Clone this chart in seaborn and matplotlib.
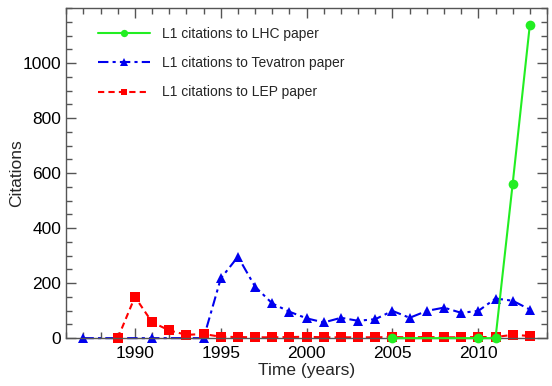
import matplotlib
matplotlib.use("Agg")
import matplotlib.pyplot as plt
import seaborn as sns
import pandas as pd
from matplotlib.ticker import MultipleLocator

lhc_years = [2005, 2010, 2011, 2012, 2013]
lhc_vals = [0, 0, 0, 562, 1140]

tev_years = [1987, 1991, 1994, 1995, 1996, 1997, 1998, 1999, 2000, 2001, 2002,
             2003, 2004, 2005, 2006, 2007, 2008, 2009, 2010, 2011, 2012, 2013]
tev_vals = [0, 0, 0, 217, 296, 187, 126, 96, 72, 57, 74,
            63, 69, 99, 74, 99, 111, 92, 99, 144, 136, 104]

lep_years = list(range(1989, 2014))
lep_vals = [0, 150, 58, 28, 12, 15, 5, 4, 3, 3, 4, 5, 3, 3, 3, 3, 4, 3, 4, 3, 3, 4, 4, 12, 8]

labels = ["L1 citations to LHC paper", "L1 citations to Tevatron paper", "L1 citations to LEP paper"]

sns.set_theme(style="ticks")
plt.rcParams['font.family'] = ['Liberation Sans', 'DejaVu Sans']

fig = plt.figure(figsize=(5.52, 3.86), dpi=100)
ax = fig.add_axes([0.12, 0.124, 0.871, 0.855])

sns.lineplot(x=lhc_years, y=lhc_vals, ax=ax, color="#22ee22", marker="o",
             markersize=7, markeredgewidth=0, linewidth=1.5, label=labels[0])
sns.lineplot(x=tev_years, y=tev_vals, ax=ax, color="#0000ee", marker="^",
             markersize=7.5, markeredgewidth=0, linewidth=1.5, label=labels[1])
sns.lineplot(x=lep_years, y=lep_vals, ax=ax, color="#ff0000", marker="s",
             markersize=6.5, markeredgewidth=0, linewidth=1.5, label=labels[2])

lines = ax.get_lines()
lines[1].set_dashes([5, 2, 1.5, 2])
lines[2].set_dashes([3, 2])
for ln in lines:
    ln.set_clip_on(False)
lines[0].set_zorder(5)

ax.set_xlim(1986, 2014)
ax.set_ylim(0, 1200)
ax.xaxis.set_major_locator(MultipleLocator(5))
ax.xaxis.set_minor_locator(MultipleLocator(1))
ax.set_yticks([0, 200, 400, 600, 800, 1000])
ax.yaxis.set_minor_locator(MultipleLocator(50))

ax.tick_params(which="both", direction="in", top=True, right=True, color="#555555",
               labelsize=12.5, labelcolor="black")
ax.tick_params(which="major", length=7, width=1)
ax.tick_params(which="minor", length=4, width=1)
ax.tick_params(axis="x", which="major", pad=6)
for s in ax.spines.values():
    s.set_color("#555555")
    s.set_linewidth(1)
    s.set_visible(True)

ax.set_xlabel("Time (years)", fontsize=12.5, labelpad=1)
ax.set_ylabel("Citations", fontsize=12.5, labelpad=-1)

handles, labs = ax.get_legend_handles_labels()
leg = ax.legend(handles, labs, loc="upper left", frameon=False, fontsize=10,
                handlelength=3.7, handletextpad=0.86, labelspacing=1.1,
                markerscale=0.75, bbox_to_anchor=(0.041, 0.981))

fig.savefig("out.png", dpi=100)
